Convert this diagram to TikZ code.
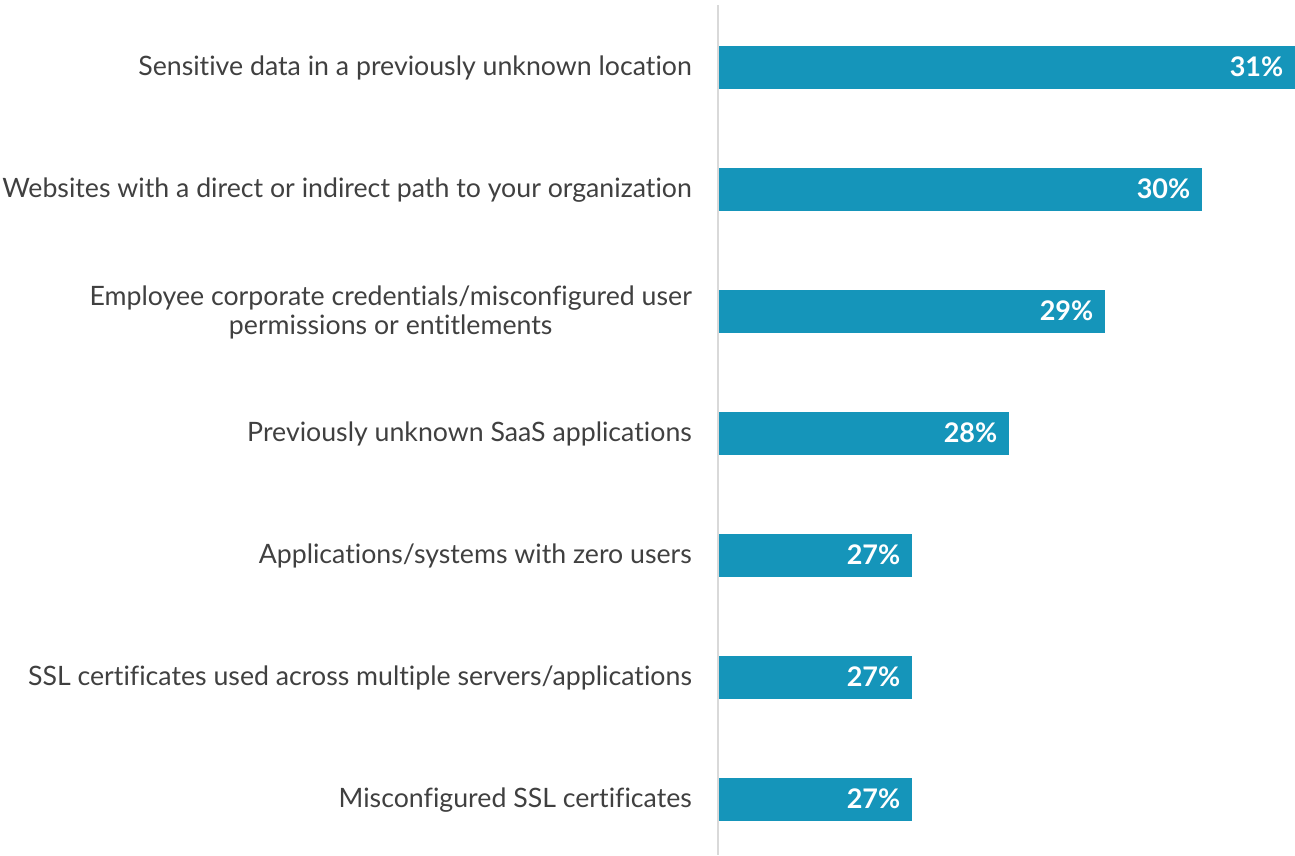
\documentclass[tikz,border=0pt]{standalone}
\usepackage{fontspec}
\setmainfont[Ligatures=NoCommon]{Lato}
\usetikzlibrary{positioning}
\definecolor{barblue}{HTML}{1595BA}
\definecolor{labelgray}{HTML}{404040}
\definecolor{axisgray}{HTML}{D9D9D9}
\tikzset{
  catlabel/.style={anchor=east, text=labelgray, align=center, inner sep=0pt,
    font=\fontsize{26.7}{29}\selectfont},
  barbox/.style={anchor=west, fill=barblue, draw=none, inner sep=0pt,
    minimum height=43pt},
  pctlabel/.style={anchor=east, text=white, inner sep=0pt,
    font=\fontsize{27}{30}\selectfont\bfseries},
  axisline/.style={draw=axisgray, line width=1.6pt},
}

\begin{document}
\begin{tikzpicture}[x=1pt,y=-1pt]
\useasboundingbox (0,0) rectangle (1295,855);

% axis
\coordinate (axtop) at (718,5);
\coordinate (axbot) at (718,855);
\draw[axisline] (axtop) -- (axbot);

% bars: index/centre/width/value
\foreach \i/\yc/\w/\val in {1/67/576/31, 2/189/483/30, 3/311/386/29,
    4/433/290/28, 5/555/193/27, 6/677/193/27, 7/799/193/27} {
  \node[barbox, minimum width=\w pt] (bar\i) at (719,\yc) {};
  \node[pctlabel, left=12pt of bar\i.east] (pct\i) {\val\%};
}

% categories
\node[catlabel] (cat1) at (692,68) {Sensitive data in a previously unknown location};
\node[catlabel] (cat2) at (692,190) {Websites with a direct or indirect path to your organization};
\node[catlabel] (cat3) at (692,312) {Employee corporate credentials/misconfigured user\\permissions or entitlements};
\node[catlabel] (cat4) at (692,434) {Previously unknown SaaS applications};
\node[catlabel] (cat5) at (692,556) {Applications/systems with zero users};
\node[catlabel] (cat6) at (692,678) {SSL certificates used across multiple servers/applications};
\node[catlabel] (cat7) at (692,800) {Misconfigured SSL certificates};

\end{tikzpicture}
\end{document}
